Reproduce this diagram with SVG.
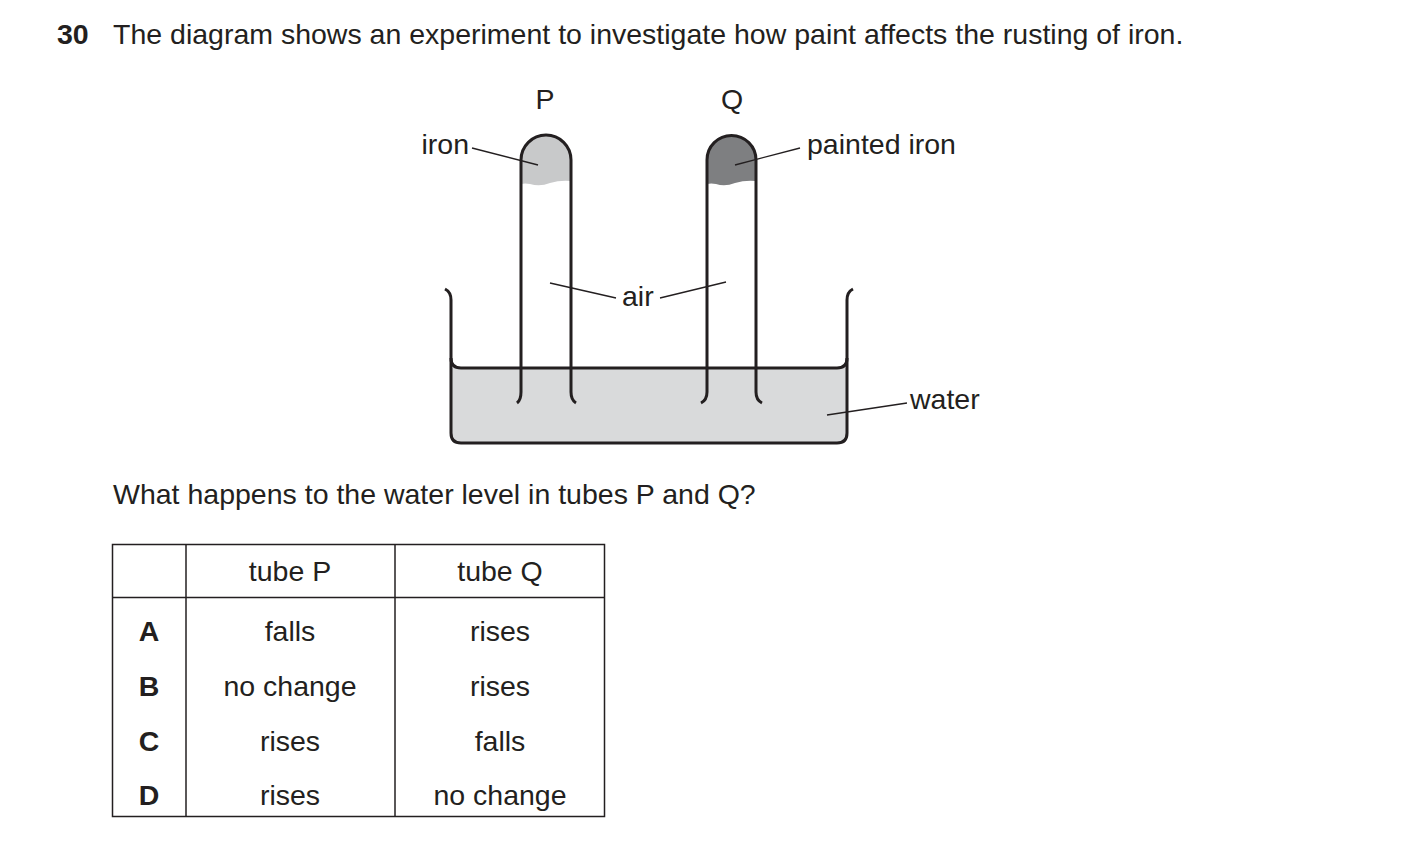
<svg xmlns="http://www.w3.org/2000/svg" width="1403" height="864" viewBox="0 0 1403 864">
<style>
text{font-family:"Liberation Sans",Arial,sans-serif;font-size:28.5px;fill:#231f20}
.c{text-anchor:middle}
.b{font-weight:bold}
.ln{stroke:#231f20;stroke-width:3;fill:none}
.th{stroke:#231f20;stroke-width:1.3;fill:none}
.tb{stroke:#231f20;stroke-width:1.5;fill:none}
</style>
<rect width="1403" height="864" fill="#fff"/>
<text x="57" y="44" class="b">30</text>
<text x="113" y="44">The diagram shows an experiment to investigate how paint affects the rusting of iron.</text>
<g id="beaker">
<path d="M451,368 L451,433 Q451,443 461,443 L837,443 Q847,443 847,433 L847,368 Z" fill="#d9dadb"/>
<path class="ln" d="M445,289 Q451,292 451,300 L451,433 Q451,443 461,443 L837,443 Q847,443 847,433 L847,300 Q847,292 853,289"/>
<path class="ln" d="M451,358 Q451,368 461,368 L837,368 Q847,368 847,358"/>
</g>
<g id="tubeP">
<path d="M521,160 A25,25 0 0 1 571,160 L571,181 Q560,180 550,183 Q540,187 530,184 Q525,183 521,184 Z" fill="#c8c9ca"/>
<path class="ln" d="M517,403 Q521,400 521,392 L521,160 A25,25 0 0 1 571,160 L571,392 Q571,400 576,403"/>
</g>
<g id="tubeQ">
<path d="M707,160 A24.5,24.5 0 0 1 756,160 L756,181 Q745,180 735,183 Q725,187 716,184 Q711,183 707,184 Z" fill="#7e7f81"/>
<path class="ln" d="M701,403 Q707,400 707,392 L707,160 A24.5,24.5 0 0 1 756,160 L756,392 Q756,400 762,403"/>
</g>
<g id="connectors">
<line class="th" x1="472" y1="148" x2="538" y2="165"/>
<line class="th" x1="735" y1="165" x2="800" y2="148"/>
<line class="th" x1="550" y1="283" x2="616" y2="298"/>
<line class="th" x1="660" y1="298" x2="726" y2="282"/>
<line class="th" x1="827" y1="415" x2="907" y2="403"/>
</g>
<g id="labels">
<text x="545" y="109" class="c">P</text>
<text x="732" y="109" class="c">Q</text>
<text x="469" y="154" text-anchor="end">iron</text>
<text x="807" y="154">painted iron</text>
<text x="622" y="306">air</text>
<text x="910" y="409">water</text>
</g>
<text x="113" y="504">What happens to the water level in tubes P and Q?</text>
<g id="table">
<rect class="tb" x="112.5" y="544.5" width="492" height="272"/>
<line class="tb" x1="186" y1="544" x2="186" y2="817"/>
<line class="tb" x1="395" y1="544" x2="395" y2="817"/>
<line class="tb" x1="112" y1="597.5" x2="605" y2="597.5"/>
<text x="290" y="581" class="c">tube P</text>
<text x="500" y="581" class="c">tube Q</text>
<text x="149" y="641" class="c b">A</text>
<text x="290" y="641" class="c">falls</text>
<text x="500" y="641" class="c">rises</text>
<text x="149" y="696" class="c b">B</text>
<text x="290" y="696" class="c">no change</text>
<text x="500" y="696" class="c">rises</text>
<text x="149" y="751" class="c b">C</text>
<text x="290" y="751" class="c">rises</text>
<text x="500" y="751" class="c">falls</text>
<text x="149" y="805" class="c b">D</text>
<text x="290" y="805" class="c">rises</text>
<text x="500" y="805" class="c">no change</text>
</g>
</svg>
